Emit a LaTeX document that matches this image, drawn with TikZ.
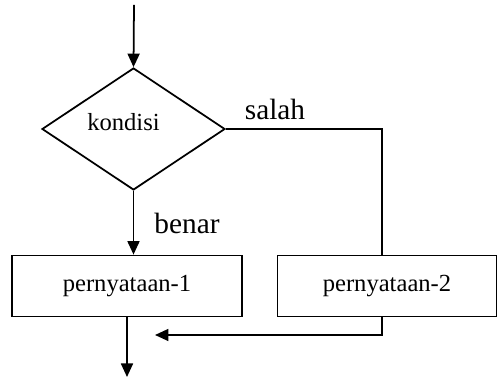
\documentclass[tikz,border=0pt]{standalone}
\usepackage{fontspec}
\setmainfont{Liberation Serif}
\usetikzlibrary{shapes.geometric}
\usetikzlibrary{arrows.meta}

\tikzset{
    flowline/.style = {line width = 1pt},
    flowarrow/.style = {flowline, -{Triangle[length = 0.27cm, width = 0.24cm]}},
    decision/.style = {draw, flowline, diamond, inner sep = 0pt,
        minimum width = 3.66cm, minimum height = 2.44cm},
    process/.style = {draw, flowline, rectangle, inner sep = 0pt,
        minimum height = 1.22cm, font = \fontsize{14}{16}\selectfont},
    branchlabel/.style = {font = \fontsize{16.7}{19}\selectfont}
}

\begin{document}
\begin{tikzpicture}[x = 0.02cm, y = -0.02cm]
        \useasboundingbox (0, 0) rectangle (497, 377);
        % decision and both branches
        \coordinate (start) at (134, 5);
        \node [decision, label = {[xshift = -0.2cm, yshift = 0.14cm, font = \fontsize{14}{16}\selectfont]center:kondisi}] (kondisi) at (133.5, 129) {};
        \node [process, minimum width = 4.6cm] (stmtA) at (127, 286) {pernyataan-1};
        \node [process, minimum width = 4.38cm] (stmtB) at (387, 286) {pernyataan-2};
        \coordinate (falsecorner) at (382, 129);
        \coordinate (joinpoint) at (155, 335);
        \coordinate (finish) at (127, 377);
        \node [branchlabel] (falselabel) at (275, 109) {salah};
        \node [branchlabel] (truelabel) at (187, 223) {benar};
        % connectors
        \draw [flowarrow] (start) -- (kondisi.north);
        \draw [flowarrow] (kondisi.south) -- (kondisi.south |- stmtA.north);
        \draw [flowline] (kondisi.east) -- (falsecorner) -- (falsecorner |- stmtB.north);
        \draw [flowarrow] (stmtB.south -| falsecorner) -- (falsecorner |- joinpoint) -- (joinpoint);
        \draw [flowarrow] (stmtA.south) -- (finish);
    \end{tikzpicture}
\end{document}
